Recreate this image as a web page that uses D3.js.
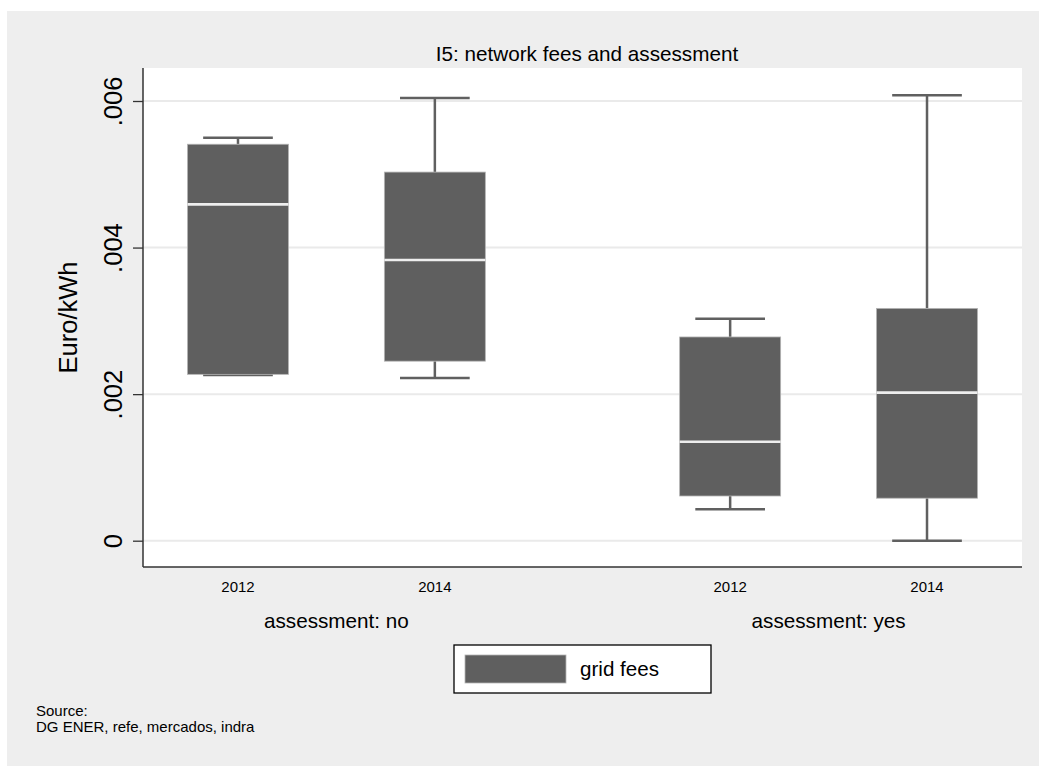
<!DOCTYPE html>
<html>
<head>
<meta charset="utf-8">
<script src="https://cdn.jsdelivr.net/npm/d3@7"></script>
<style>
  body { margin: 0; background: #fff; }
  text { font-family: "Liberation Sans", Arial, sans-serif; fill: #000; }
</style>
</head>
<body>
<svg id="chart" width="1039" height="766"></svg>
<script>
// groups and years (over() categories)
const groups = ["assessment: no", "assessment: yes"];
const years = ["2012", "2014"];
const seriesName = "grid fees";

// box stats per group, in year order
const lowWhisker = [[0.00226, 0.00222], [0.00043, 0.0]];
const q1 = [[0.00227, 0.00245], [0.00061, 0.00058]];
const median = [[0.00459, 0.00383], [0.00135, 0.00202]];
const q3 = [[0.00541, 0.00503], [0.00278, 0.00317]];
const highWhisker = [[0.00550, 0.00604], [0.00303, 0.00608]];

const yTicks = [0, 0.002, 0.004, 0.006];
const yTickLabels = ["0", ".002", ".004", ".006"];

const title = "I5: network fees and assessment";
const yTitle = "Euro/kWh";
const note = ["Source:", "DG ENER, refe, mercados, indra"];

const plot = { left: 143, right: 1022, top: 68, bottom: 567 };
const boxColor = "#5f5f5f";

const svg = d3.select("#chart");

// outer graph region
svg.append("rect")
    .attr("x", 7).attr("y", 11)
    .attr("width", 1039 - 7).attr("height", 766 - 11)
    .attr("fill", "#eeeeee");

// plot region
svg.append("rect")
    .attr("x", plot.left).attr("y", plot.top)
    .attr("width", plot.right - plot.left).attr("height", plot.bottom - plot.top)
    .attr("fill", "#ffffff");

const y = d3.scaleLinear()
    .domain([0, 0.006])
    .range([540.7, 101]);

const xGroup = d3.scalePoint()
    .domain(groups)
    .range([plot.left, plot.right])
    .padding(0.393);

const groupStep = xGroup.step();
const xYear = d3.scalePoint()
    .domain(years)
    .range([-groupStep / 2, groupStep / 2])
    .padding(0.75);

const boxW = xYear.step() * 0.513;
const capW = boxW * 0.69;

// grid lines
svg.append("g")
    .selectAll("line")
    .data(yTicks)
    .enter().append("line")
    .attr("x1", plot.left).attr("x2", plot.right)
    .attr("y1", d => y(d)).attr("y2", d => y(d))
    .attr("stroke", "#eaeaea")
    .attr("stroke-width", 2);

// boxes
const boxes = [];
groups.forEach((g, gi) => {
    years.forEach((yr, yi) => {
        boxes.push({
            cx: xGroup(g) + xYear(yr),
            lo: lowWhisker[gi][yi], q1: q1[gi][yi], med: median[gi][yi],
            q3: q3[gi][yi], hi: highWhisker[gi][yi]
        });
    });
});

const bg = svg.append("g");
boxes.forEach(b => {
    // whiskers
    bg.append("line")
        .attr("x1", b.cx).attr("x2", b.cx)
        .attr("y1", y(b.hi)).attr("y2", y(b.q3))
        .attr("stroke", "#606060").attr("stroke-width", 2.5);
    bg.append("line")
        .attr("x1", b.cx).attr("x2", b.cx)
        .attr("y1", y(b.q1)).attr("y2", y(b.lo))
        .attr("stroke", "#606060").attr("stroke-width", 2.5);
    bg.append("line")
        .attr("x1", b.cx - capW / 2).attr("x2", b.cx + capW / 2)
        .attr("y1", y(b.hi)).attr("y2", y(b.hi))
        .attr("stroke", "#606060").attr("stroke-width", 2.5);
    bg.append("line")
        .attr("x1", b.cx - capW / 2).attr("x2", b.cx + capW / 2)
        .attr("y1", y(b.lo)).attr("y2", y(b.lo))
        .attr("stroke", "#606060").attr("stroke-width", 2.5);
    // box
    bg.append("rect")
        .attr("x", b.cx - boxW / 2).attr("y", y(b.q3))
        .attr("width", boxW).attr("height", y(b.q1) - y(b.q3))
        .attr("fill", boxColor)
        .attr("stroke", "#b4b4b4").attr("stroke-width", 0.8);
    // median
    bg.append("line")
        .attr("x1", b.cx - boxW / 2).attr("x2", b.cx + boxW / 2)
        .attr("y1", y(b.med)).attr("y2", y(b.med))
        .attr("stroke", "#eeeeee").attr("stroke-width", 2.6);
});

// y axis
const yAxis = svg.append("g")
    .attr("transform", "translate(" + plot.left + ",0)")
    .call(d3.axisLeft(y)
        .tickValues(yTicks)
        .tickFormat((d, i) => yTickLabels[i])
        .tickSize(10)
        .tickSizeOuter(0));
yAxis.select(".domain").remove();
yAxis.selectAll(".tick line").attr("stroke", "#333").attr("stroke-width", 1.3);
yAxis.selectAll(".tick text")
    .attr("transform", "rotate(-90)")
    .attr("x", 0).attr("y", -21).attr("dy", 0)
    .attr("text-anchor", "middle")
    .style("font-size", "25.5px")
    .style("font-family", "'Liberation Sans', Arial, sans-serif")
    .attr("fill", "#000");

svg.append("line")
    .attr("x1", plot.left).attr("x2", plot.left)
    .attr("y1", plot.top).attr("y2", plot.bottom)
    .attr("stroke", "#333").attr("stroke-width", 1.5);
svg.append("line")
    .attr("x1", plot.left).attr("x2", plot.right)
    .attr("y1", plot.bottom).attr("y2", plot.bottom)
    .attr("stroke", "#333").attr("stroke-width", 1.5);

// x category labels
boxes.forEach((b, i) => {
    svg.append("text")
        .attr("x", b.cx).attr("y", 592)
        .attr("text-anchor", "middle")
        .style("font-size", "15px")
        .text(years[i % years.length]);
});
groups.forEach(g => {
    svg.append("text")
        .attr("x", xGroup(g)).attr("y", 628)
        .attr("text-anchor", "middle")
        .style("font-size", "20.7px")
        .text(g);
});

// title
svg.append("text")
    .attr("x", 587).attr("y", 61)
    .attr("text-anchor", "middle")
    .style("font-size", "20.7px")
    .text(title);

// y title
svg.append("text")
    .attr("transform", "translate(77," + (plot.top + plot.bottom) / 2 + ") rotate(-90)")
    .attr("text-anchor", "middle")
    .style("font-size", "25.5px")
    .text(yTitle);

// legend
const lg = svg.append("g");
lg.append("rect")
    .attr("x", 454).attr("y", 645)
    .attr("width", 257).attr("height", 48)
    .attr("fill", "#fff").attr("stroke", "#000").attr("stroke-width", 1.3);
lg.append("rect")
    .attr("x", 465).attr("y", 655)
    .attr("width", 101).attr("height", 28)
    .attr("fill", boxColor).attr("stroke", "#b4b4b4").attr("stroke-width", 0.8);
lg.append("text")
    .attr("x", 580).attr("y", 676)
    .style("font-size", "20.6px")
    .text(seriesName);

// note
note.forEach((t, i) => {
    svg.append("text")
        .attr("x", 36).attr("y", 716 + i * 16)
        .style("font-size", "15px")
        .text(t);
});
</script>
</body>
</html>
